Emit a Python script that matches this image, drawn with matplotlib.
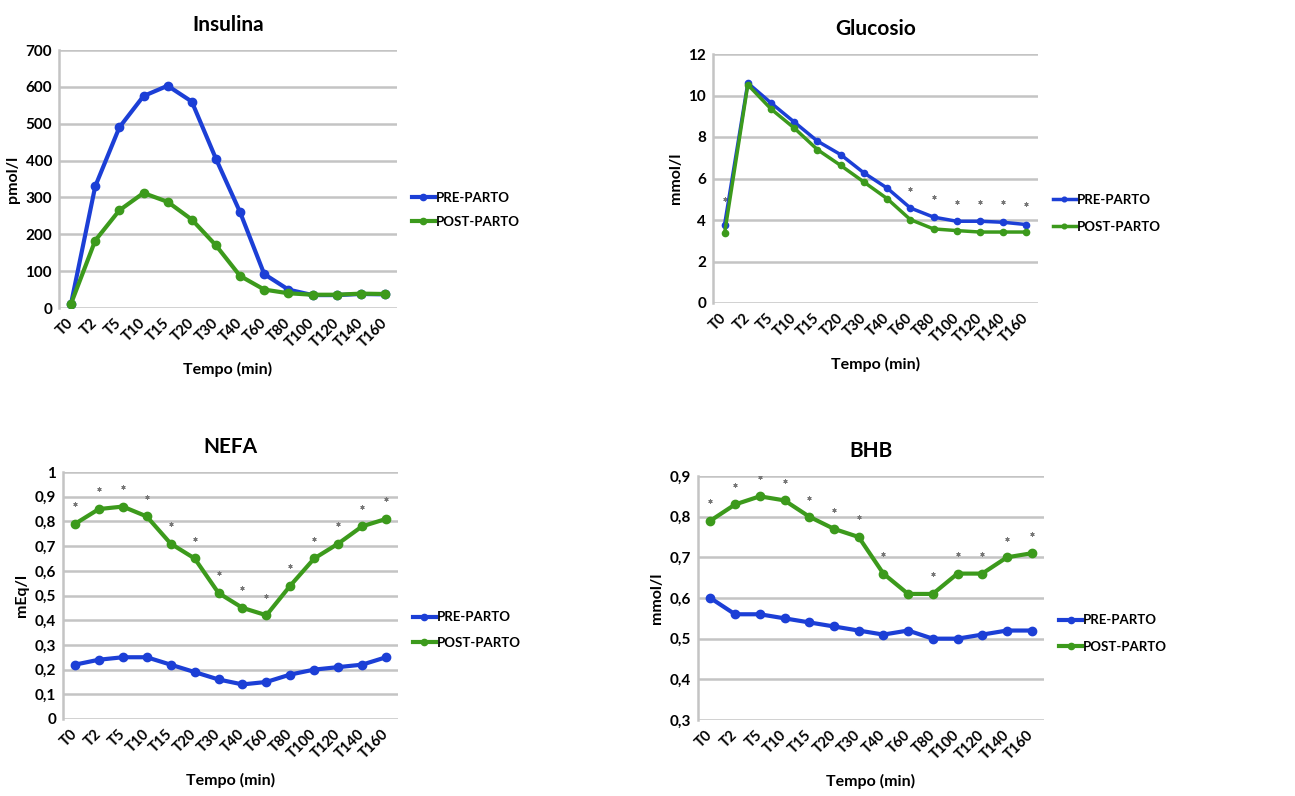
import matplotlib.pyplot as plt
import numpy as np

plt.rcParams['font.family'] = ['Lato', 'DejaVu Sans']
plt.rcParams['font.weight'] = 'bold'

times = ['T0', 'T2', 'T5', 'T10', 'T15', 'T20', 'T30', 'T40', 'T60',
         'T80', 'T100', 'T120', 'T140', 'T160']

ins_pre = [12, 330, 490, 575, 603, 560, 405, 260, 92, 50, 35, 35, 38, 37]
ins_post = [12, 183, 265, 312, 288, 240, 170, 87, 50, 40, 36, 36, 39, 38]

glu_pre = [3.78, 10.6, 9.64, 8.72, 7.8, 7.15, 6.27, 5.54, 4.58, 4.14, 3.94, 3.94, 3.89, 3.78]
glu_post = [3.37, 10.52, 9.35, 8.43, 7.39, 6.63, 5.83, 5.03, 4.02, 3.57, 3.49, 3.42, 3.42, 3.42]
glu_sig = [5.0, None, None, None, None, None, None, None, 5.5, 5.1, 4.87, 4.87, 4.87, 4.77]

nefa_pre = [0.22, 0.24, 0.25, 0.25, 0.22, 0.19, 0.16, 0.14, 0.15, 0.18, 0.20, 0.21, 0.22, 0.25]
nefa_post = [0.79, 0.85, 0.86, 0.82, 0.71, 0.65, 0.51, 0.45, 0.42, 0.54, 0.65, 0.71, 0.78, 0.81]
nefa_sig = [0.87, 0.93, 0.94, 0.90, 0.79, 0.73, 0.59, 0.53, 0.50, 0.62, 0.73, 0.79, 0.86, 0.89]

bhb_pre = [0.60, 0.56, 0.56, 0.55, 0.54, 0.53, 0.52, 0.51, 0.52, 0.50, 0.50, 0.51, 0.52, 0.52]
bhb_post = [0.79, 0.83, 0.85, 0.84, 0.80, 0.77, 0.75, 0.66, 0.61, 0.61, 0.66, 0.66, 0.70, 0.71]
bhb_sig = [0.838, 0.877, 0.898, 0.888, 0.847, 0.817, 0.798, 0.707, None, 0.658, 0.707, 0.707, 0.746, 0.757]

BLUE = '#1c3fd6'
GREEN = '#3c9a1c'
GRID = '#c4c4c4'


def fmt(v):
    s = ('%.1f' % v).replace('.', ',')
    if s.endswith(',0'):
        s = s[:-2]
    return s


def panel(rect, title, pre, post, sig, ylim, step, ylabel, lw, ms, leg_y, spacing):
    ax = fig.add_axes(rect)
    x = np.arange(len(times))
    ax.plot(x, pre, color=BLUE, lw=lw, marker='o', ms=ms, label='PRE-PARTO', zorder=3)
    ax.plot(x, post, color=GREEN, lw=lw, marker='o', ms=ms, label='POST-PARTO', zorder=3)
    if sig is not None:
        sx = [i for i, v in enumerate(sig) if v is not None]
        sy = [v for v in sig if v is not None]
        ax.plot(sx, sy, ls='none', marker=(6, 2, 0), ms=3, mew=0.7, color='#777777', zorder=2)
    ax.set_xlim(-0.5, len(times) - 0.5)
    ax.set_ylim(*ylim)
    ticks = np.arange(ylim[0], ylim[1] + step / 2, step)
    ax.set_yticks(ticks)
    if step < 1:
        ax.set_yticklabels([fmt(t) for t in ticks])
    ax.set_xticks(x)
    ax.set_xticklabels(times, rotation=45, ha='right', va='center',
                       rotation_mode='anchor')
    ax.tick_params(length=0, labelsize=11, pad=5)
    ax.tick_params(axis='x', pad=9, labelsize=10.5)
    plt.setp(ax.get_xticklabels() + ax.get_yticklabels(), fontweight='bold')
    ax.yaxis.grid(True, color=GRID, lw=1.8)
    ax.set_axisbelow(True)
    for s in ['top', 'right', 'bottom']:
        ax.spines[s].set_visible(False)
    ax.spines['left'].set_color(GRID)
    ax.spines['left'].set_linewidth(1.8)
    ax.set_title(title, fontsize=15, fontweight='bold', pad=14)
    ax.set_xlabel('Tempo (min)', fontsize=11.5, fontweight='bold', labelpad=9)
    ax.set_ylabel(ylabel, fontsize=11.5, fontweight='bold', labelpad=4)
    leg = ax.legend(loc='center left', bbox_to_anchor=(1.01, leg_y), frameon=False,
                    fontsize=9.5, handlelength=1.7, handletextpad=0.1,
                    labelspacing=spacing, markerscale=0.75)
    plt.setp(leg.get_texts(), fontweight='bold')
    return ax


W, H = 1295, 796
fig = plt.figure(figsize=(W / 100, H / 100), dpi=100)


def r(x0, y0, x1, y1):
    return [x0 / W, 1 - y1 / H, (x1 - x0) / W, (y1 - y0) / H]


panel(r(59, 50, 397, 308), 'Insulina', ins_pre, ins_post, None, (0, 700), 100,
      'pmol/l', 3.0, 6, 0.38, 0.9)
panel(r(713, 54, 1038, 303), 'Glucosio', glu_pre, glu_post, glu_sig, (0, 12), 2,
      'mmol/l', 2.5, 4.5, 0.36, 1.1)
panel(r(63, 472, 398, 719), 'NEFA', nefa_pre, nefa_post, nefa_sig, (0, 1), 0.1,
      'mEq/l', 3.0, 6, 0.36, 1.0)
panel(r(698, 476, 1044, 720), 'BHB', bhb_pre, bhb_post, bhb_sig, (0.3, 0.9), 0.1,
      'mmol/l', 3.0, 6, 0.355, 1.1)

fig.savefig('out.png', dpi=100)
